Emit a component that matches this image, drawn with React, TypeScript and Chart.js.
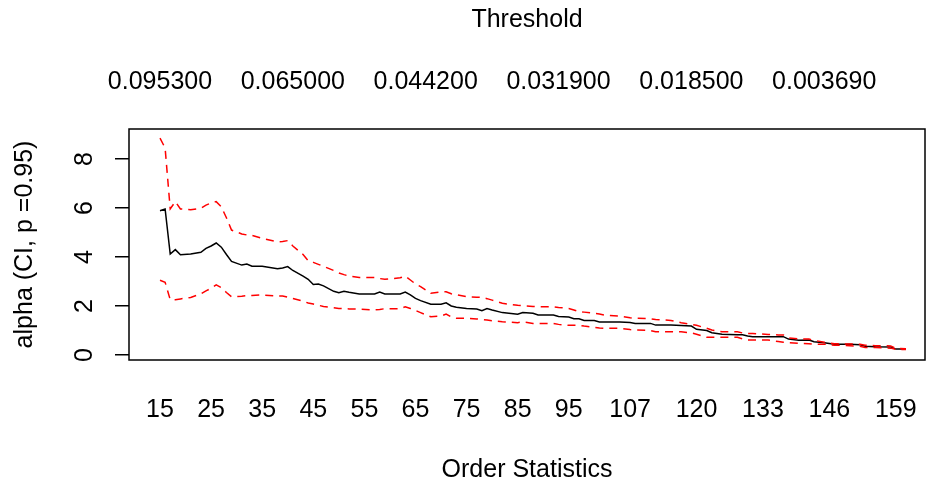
import React, { useEffect, useRef } from "react";
import { Chart, registerables } from "chart.js";

Chart.register(...registerables);

// Order statistics (k) at which the Hill estimates were read
const orderStats = [
  15, 16, 17, 18, 19, 21, 23, 24, 25, 26, 27, 28, 29, 31, 32, 33, 35, 38, 39, 40,
  41, 43, 44, 45, 46, 47, 49, 50, 51, 52, 54, 57, 58, 59, 62, 63, 64, 65, 66, 68,
  70, 71, 72, 73, 75, 77, 78, 79, 80, 82, 85, 86, 88, 89, 92, 93, 95, 96, 97, 98,
  100, 101, 102, 105, 107, 108, 111, 112, 115, 117, 119, 120, 122, 123, 125, 128, 129, 130, 131, 134,
  136, 137, 138, 140, 142, 143, 145, 147, 150, 152, 153, 155, 158, 159, 161,
];

// Hill estimate of alpha
const alphaHat = [
  5.89, 5.96, 4.12, 4.30, 4.09, 4.12, 4.19, 4.35, 4.45, 4.57, 4.40, 4.10, 3.82, 3.67, 3.71, 3.62, 3.62, 3.52, 3.55, 3.61,
  3.45, 3.22, 3.09, 2.88, 2.90, 2.82, 2.60, 2.54, 2.60, 2.56, 2.49, 2.49, 2.57, 2.49, 2.49, 2.57, 2.45, 2.31, 2.22, 2.07,
  2.07, 2.13, 2.00, 1.95, 1.90, 1.88, 1.81, 1.90, 1.84, 1.73, 1.66, 1.73, 1.70, 1.63, 1.63, 1.57, 1.55, 1.48, 1.48, 1.41,
  1.41, 1.35, 1.35, 1.35, 1.33, 1.29, 1.29, 1.22, 1.22, 1.20, 1.18, 1.05, 1.00, 0.91, 0.85, 0.83, 0.83, 0.78, 0.75, 0.75,
  0.75, 0.75, 0.65, 0.60, 0.61, 0.54, 0.50, 0.44, 0.44, 0.42, 0.36, 0.34, 0.33, 0.24, 0.24,
];

// Upper confidence bound (p = 0.95)
const upperCI = [
  8.85, 8.45, 5.96, 6.26, 5.96, 5.93, 5.99, 6.12, 6.20, 6.26, 6.05, 5.60, 5.10, 4.94, 4.90, 4.88, 4.76, 4.62, 4.63, 4.67,
  4.45, 4.10, 3.85, 3.78, 3.70, 3.62, 3.45, 3.35, 3.28, 3.22, 3.16, 3.16, 3.12, 3.09, 3.15, 3.22, 3.06, 2.90, 2.79, 2.52,
  2.58, 2.58, 2.50, 2.46, 2.38, 2.36, 2.35, 2.30, 2.24, 2.11, 2.03, 2.01, 1.98, 1.97, 1.97, 1.94, 1.90, 1.84, 1.77, 1.75,
  1.70, 1.67, 1.63, 1.59, 1.52, 1.50, 1.48, 1.45, 1.41, 1.32, 1.25, 1.21, 1.09, 1.02, 0.95, 0.95, 0.90, 0.88, 0.88, 0.84,
  0.82, 0.82, 0.70, 0.66, 0.65, 0.60, 0.52, 0.46, 0.45, 0.44, 0.40, 0.38, 0.37, 0.27, 0.26,
];

// Lower confidence bound (p = 0.95)
const lowerCI = [
  3.05, 2.97, 2.26, 2.26, 2.29, 2.35, 2.50, 2.62, 2.72, 2.86, 2.75, 2.55, 2.38, 2.40, 2.42, 2.43, 2.45, 2.40, 2.41, 2.36,
  2.31, 2.20, 2.12, 2.08, 2.03, 1.98, 1.93, 1.90, 1.89, 1.88, 1.87, 1.84, 1.86, 1.89, 1.89, 1.97, 1.90, 1.82, 1.73, 1.56,
  1.59, 1.67, 1.55, 1.50, 1.50, 1.47, 1.45, 1.43, 1.40, 1.36, 1.32, 1.35, 1.29, 1.29, 1.29, 1.25, 1.21, 1.21, 1.21, 1.18,
  1.13, 1.10, 1.09, 1.09, 1.04, 1.02, 1.00, 0.95, 0.95, 0.95, 0.90, 0.85, 0.72, 0.72, 0.72, 0.72, 0.66, 0.61, 0.61, 0.61,
  0.55, 0.52, 0.50, 0.48, 0.46, 0.44, 0.44, 0.40, 0.38, 0.36, 0.31, 0.31, 0.28, 0.23, 0.22,
];

const bottomTicks = [15, 25, 35, 45, 55, 65, 75, 85, 95, 107, 120, 133, 146, 159];
const thresholdTicks = [15, 41, 67, 93, 119, 145];
const thresholdLabels = ["0.095300", "0.065000", "0.044200", "0.031900", "0.018500", "0.003690"];
const yTicks = [0, 2, 4, 6, 8];

const FONT = "'Liberation Sans', Arial, sans-serif";

const boxPlugin = {
  id: "rbox",
  afterDatasetsDraw(chart: any) {
    const { ctx, chartArea } = chart;
    ctx.save();
    ctx.strokeStyle = "#000";
    ctx.lineWidth = 1.5;
    ctx.strokeRect(chartArea.left, chartArea.top, chartArea.right - chartArea.left, chartArea.bottom - chartArea.top);
    ctx.restore();
  },
};

const noPad = (s: any) => {
  s.paddingLeft = 0;
  s.paddingRight = 0;
  s.paddingTop = 0;
  s.paddingBottom = 0;
};

export default function App() {
  const ref = useRef<HTMLCanvasElement | null>(null);

  useEffect(() => {
    if (!ref.current) return;
    const pts = (vals: number[]) => orderStats.map((k, i) => ({ x: k, y: vals[i] }));
    const font = { family: FONT, size: 25, lineHeight: 1 };
    const chart = new Chart(ref.current, {
      type: "line",
      data: {
        datasets: [
          {
            label: "upper",
            data: pts(upperCI),
            borderColor: "#ff0000",
            borderWidth: 1.5,
            borderDash: [8, 6],
            pointRadius: 0,
            tension: 0,
            fill: false,
          },
          {
            label: "lower",
            data: pts(lowerCI),
            borderColor: "#ff0000",
            borderWidth: 1.5,
            borderDash: [8, 6],
            pointRadius: 0,
            tension: 0,
            fill: false,
          },
          {
            label: "alpha",
            data: pts(alphaHat),
            borderColor: "#000000",
            borderWidth: 1.5,
            pointRadius: 0,
            tension: 0,
            fill: false,
          },
        ],
      },
      options: {
        responsive: false,
        animation: false,
        devicePixelRatio: 1,
        layout: { padding: { left: 0, right: 1, top: 0, bottom: 0 } },
        plugins: { legend: { display: false }, tooltip: { enabled: false } },
        scales: {
          x: {
            type: "linear",
            position: "bottom",
            min: 8.933,
            max: 164.72,
            afterBuildTicks: (s: any) => {
              s.ticks = bottomTicks.map((v) => ({ value: v }));
            },
            afterFit: (s: any) => {
              s.height = 123;
              noPad(s);
            },
            grid: { display: false, drawTicks: false },
            border: { display: false },
            ticks: {
              autoSkip: false,
              maxRotation: 0,
              minRotation: 0,
              padding: 37.5,
              color: "#000",
              font,
              callback: (v: any) => String(v),
            },
            title: {
              display: true,
              text: "Order Statistics",
              color: "#000",
              font,
              padding: { top: 0, bottom: 0.5 },
            },
          },
          x2: {
            type: "linear",
            position: "top",
            min: 8.933,
            max: 164.72,
            afterBuildTicks: (s: any) => {
              s.ticks = thresholdTicks.map((v) => ({ value: v }));
            },
            afterFit: (s: any) => {
              s.height = 129;
              noPad(s);
            },
            grid: { display: false, drawTicks: false },
            border: { display: false },
            ticks: {
              autoSkip: false,
              maxRotation: 0,
              minRotation: 0,
              padding: 34.5,
              color: "#000",
              font,
              callback: (_v: any, i: number) => thresholdLabels[i],
            },
            title: {
              display: true,
              text: "Threshold",
              color: "#000",
              font,
              padding: { top: 7.5, bottom: 0 },
            },
          },
          y: {
            type: "linear",
            position: "left",
            min: -0.204,
            max: 9.224,
            afterBuildTicks: (s: any) => {
              s.ticks = yTicks.map((v) => ({ value: v }));
            },
            afterFit: (s: any) => {
              s.width = 129;
              noPad(s);
            },
            grid: {
              display: true,
              drawOnChartArea: false,
              drawTicks: true,
              tickLength: 14,
              tickColor: "#000",
              lineWidth: 1.5,
            },
            border: { display: false },
            ticks: {
              autoSkip: false,
              minRotation: 90,
              maxRotation: 90,
              crossAlign: "center",
              padding: 23,
              color: "#000",
              font,
              callback: (v: any) => String(v),
            },
            title: {
              display: true,
              text: "alpha (CI, p =0.95)",
              color: "#000",
              font,
              padding: { top: 12.5, bottom: 0 },
            },
          },
        },
      },
      plugins: [boxPlugin],
    } as any);
    return () => chart.destroy();
  }, []);

  return (
    <div style={{ position: "absolute", left: 0, top: 0, width: 926, height: 483, background: "#fff" }}>
      <canvas ref={ref} width={926} height={483} style={{ display: "block", width: 926, height: 483 }} />
    </div>
  );
}
